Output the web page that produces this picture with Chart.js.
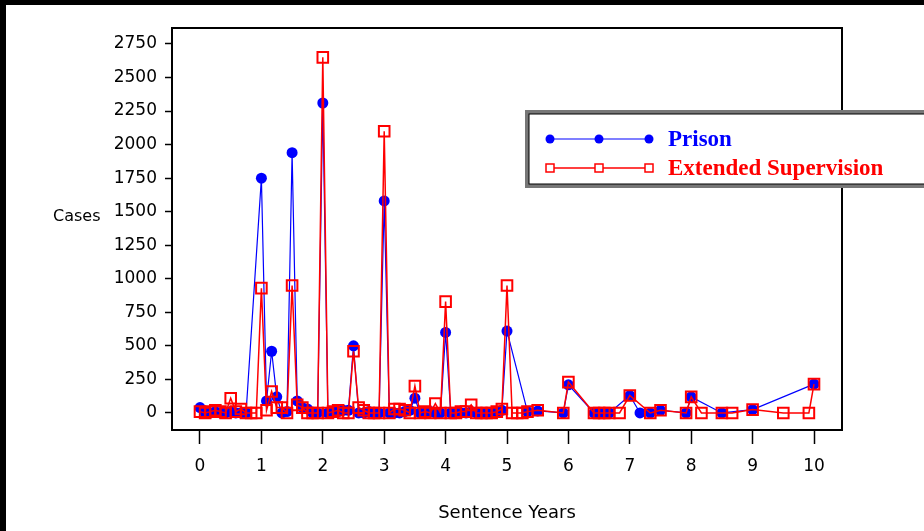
<!DOCTYPE html>
<html>
<head>
<meta charset="utf-8">
<script src="https://cdn.jsdelivr.net/npm/chart.js@4.4.1/dist/chart.umd.min.js"></script>
<style>
	html, body { margin: 0; padding: 0; background: #fff; }
	#wrap { width: 924px; height: 531px; position: relative; }
</style>
</head>
<body>
<div id="wrap"><canvas id="cases_chart" width="924" height="531"></canvas></div>
<script>
// sentence length in months, cases per length
var prisonMonths = [0, 1, 2, 3, 4, 5, 6, 7, 8, 9, 12, 13, 14, 15, 16, 17, 18, 19, 20, 21, 22, 23,
	24, 25, 26, 27, 28, 29, 30, 31, 32, 33, 34, 35, 36, 37, 38, 39, 40, 41, 42, 43, 44, 45, 46, 47,
	48, 49, 50, 51, 52, 53, 54, 55, 56, 57, 58, 59, 60, 64, 66, 71, 72, 77, 78, 79, 80, 84, 86, 88,
	90, 95, 96, 102, 108, 120];
var prisonCases = [40, 0, 0, 10, 0, 0, 10, 0, 0, 0, 1750, 90, 460, 120, 0, 10, 1940, 90, 40, 30, 0, 0,
	2310, 0, 10, 10, 20, 20, 500, 0, 0, 10, 0, 0, 1580, 0, 0, 0, 10, 20, 110, 0, 0, 10, 0, 0,
	600, 0, 0, 0, 0, 10, 0, 0, 0, 0, 10, 20, 610, 10, 15, 0, 210, 0, 0, 0, 0, 130, 0, 0,
	20, 0, 120, 0, 25, 215];

var supervisionMonths = [0, 1, 2, 3, 4, 5, 6, 7, 8, 9, 10, 11, 12, 13, 14, 15, 16, 17, 18, 19, 20, 21,
	22, 23, 24, 25, 26, 27, 28, 29, 30, 31, 32, 33, 34, 35, 36, 37, 38, 39, 40, 41, 42, 43, 44, 45,
	46, 47, 48, 49, 50, 51, 52, 53, 54, 55, 56, 57, 58, 59, 60, 61, 62, 63, 64, 66, 71, 72, 77, 78,
	79, 80, 82, 84, 88, 90, 95, 96, 98, 102, 104, 108, 114, 119, 120];
var supervisionCases = [10, 0, 10, 20, 10, 0, 110, 10, 30, 0, 0, 0, 930, 20, 160, 40, 40, 0, 950, 60, 40, 0,
	0, 0, 2650, 0, 10, 20, 0, 0, 460, 40, 20, 0, 0, 0, 2100, 0, 30, 30, 20, 0, 200, 0, 10, 0,
	70, 0, 830, 0, 0, 10, 10, 60, 0, 0, 0, 0, 10, 30, 950, 0, 0, 0, 10, 20, 0, 230, 0, 0,
	0, 0, 0, 130, 0, 20, 0, 120, 0, 0, 0, 25, 0, 0, 215];

var yearTicks = [0, 1, 2, 3, 4, 5, 6, 7, 8, 9, 10];
var caseTicks = [0, 250, 500, 750, 1000, 1250, 1500, 1750, 2000, 2250, 2500, 2750];

var seriesNames = ["Prison", "Extended Supervision"];
var blue = "#0000ff";
var red = "#ff0000";

function toPoints(months, cases) {
	var pts = [];
	for (var i = 0; i < months.length; i++) pts.push({x: months[i] / 12, y: cases[i]});
	return pts;
}

function _each(arr, fn) {
	for (var i = 0; i < arr.length; i++) fn(arr[i]);
}

var axisFontFamily = "'DejaVu Sans', sans-serif";

// outer page frame, plot box, "Cases" label and the boxed legend
var decor = {
	id: "decor",
	beforeDraw: function(chart) {
		var ctx = chart.ctx;
		ctx.save();
		ctx.fillStyle = "#fff";
		ctx.fillRect(0, 0, chart.width, chart.height);
		ctx.fillStyle = "#000";
		ctx.fillRect(0, 0, chart.width, 5);
		ctx.fillRect(0, 0, 6, chart.height);
		ctx.restore();
	},
	afterDraw: function(chart) {
		var ctx = chart.ctx;
		var a = chart.chartArea;
		ctx.save();
		ctx.strokeStyle = "#000";
		ctx.lineWidth = 2;
		ctx.strokeRect(a.left, a.top, a.right - a.left, a.bottom - a.top);

		ctx.fillStyle = "#000";
		ctx.font = "16px " + axisFontFamily;
		ctx.textAlign = "left";
		ctx.textBaseline = "middle";
		ctx.fillText("Cases", 53, 217);

		// legend box
		var bx = 527, by = 112, bw = 400, bh = 74;
		ctx.fillStyle = "#fff";
		ctx.fillRect(bx, by, bw, bh);
		ctx.strokeStyle = "#777";
		ctx.lineWidth = 4;
		ctx.strokeRect(bx, by, bw, bh);
		ctx.strokeStyle = "#000";
		ctx.lineWidth = 1;
		ctx.strokeRect(bx + 2, by + 2, bw - 4, bh - 4);

		var rows = [
			{y: 139, color: blue, name: seriesNames[0], dot: true},
			{y: 168, color: red, name: seriesNames[1], dot: false}
		];
		_each(rows, function(r) {
			ctx.strokeStyle = r.color;
			ctx.lineWidth = r.dot ? 1.2 : 1.5;
			ctx.beginPath();
			ctx.moveTo(550, r.y);
			ctx.lineTo(650, r.y);
			ctx.stroke();
			_each([550, 599, 649], function(mx) {
				if (r.dot) {
					ctx.fillStyle = r.color;
					ctx.beginPath();
					ctx.arc(mx, r.y, 4.5, 0, Math.PI * 2);
					ctx.fill();
				} else {
					ctx.fillStyle = "#fff";
					ctx.fillRect(mx - 4, r.y - 4, 8, 8);
					ctx.lineWidth = 1.5;
					ctx.strokeRect(mx - 4, r.y - 4, 8, 8);
				}
			});
			ctx.fillStyle = r.color;
			ctx.font = "bold 23px 'Liberation Serif', 'Times New Roman', serif";
			ctx.textAlign = "left";
			ctx.textBaseline = "middle";
			ctx.fillText(r.name, 668, r.y + 1);
		});
		ctx.restore();
	}
};

var tickFont = {family: axisFontFamily, size: 17};
var titleFont = {family: axisFontFamily, size: 18};

var chart = new Chart(document.getElementById("cases_chart").getContext("2d"), {
	type: "line",
	data: {
		datasets: [
			{
				label: seriesNames[0],
				data: toPoints(prisonMonths, prisonCases),
				borderColor: blue,
				backgroundColor: blue,
				borderWidth: 1.2,
				pointStyle: "circle",
				pointRadius: 5.5,
				pointBackgroundColor: blue,
				pointBorderColor: blue,
				pointBorderWidth: 0,
				tension: 0,
				order: 1
			},
			{
				label: seriesNames[1],
				data: toPoints(supervisionMonths, supervisionCases),
				borderColor: red,
				backgroundColor: red,
				borderWidth: 1.5,
				pointStyle: "rect",
				pointRadius: 7.5,
				pointBackgroundColor: "rgba(0,0,0,0)",
				pointBorderColor: red,
				pointBorderWidth: 2,
				tension: 0,
				order: 0
			}
		]
	},
	options: {
		responsive: false,
		animation: false,
		devicePixelRatio: 1,
		layout: {padding: {left: 0, top: 28, right: 82, bottom: 0}},
		plugins: {legend: {display: false}, tooltip: {enabled: false}},
		scales: {
			x: {
				type: "linear",
				min: -0.456,
				max: 10.456,
				afterFit: function(scale) { scale.height = 101; },
				afterBuildTicks: function(scale) {
					scale.ticks = yearTicks.map(function(v) { return {value: v}; });
				},
				grid: {display: true, drawOnChartArea: false, color: "#000", tickLength: 14, tickWidth: 1.5},
				border: {display: true, color: "#000", width: 2},
				ticks: {color: "#000", font: tickFont, padding: 12, maxRotation: 0,
					callback: function(v) { return String(v); }},
				title: {display: true, text: "Sentence Years", color: "#000", font: titleFont, padding: {top: 4, bottom: 7}}
			},
			y: {
				type: "linear",
				min: -127,
				max: 2869,
				afterFit: function(scale) { scale.width = 172; },
				afterBuildTicks: function(scale) {
					scale.ticks = caseTicks.map(function(v) { return {value: v}; });
				},
				grid: {display: true, drawOnChartArea: false, color: "#000", tickLength: 7, tickWidth: 1.5},
				border: {display: true, color: "#000", width: 2},
				ticks: {color: "#000", font: tickFont, padding: 8,
					callback: function(v) { return String(v); }}
			}
		}
	},
	plugins: [decor]
});
</script>
</body>
</html>
